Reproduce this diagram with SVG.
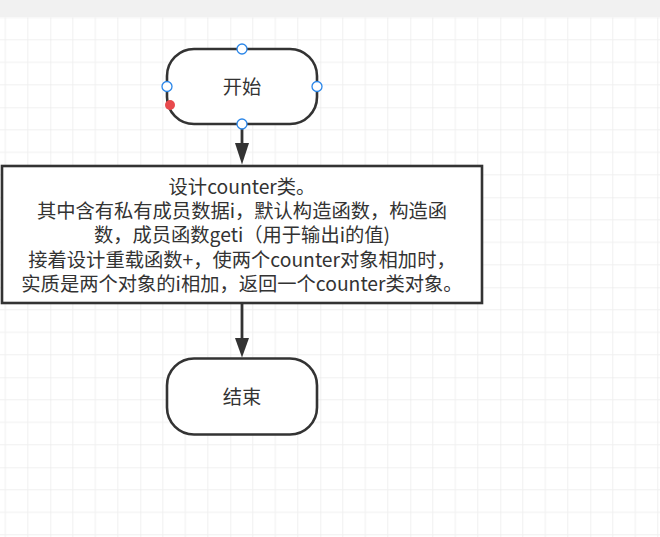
<svg xmlns="http://www.w3.org/2000/svg" width="660" height="537" viewBox="0 0 660 537">
  <defs>
    <pattern id="grid" patternUnits="userSpaceOnUse" x="-39.7" y="17.3" width="90" height="90">
      <path d="M22.5 0V90M45 0V90M67.5 0V90M0 22.5H90M0 45H90M0 67.5H90" stroke="#f0f0f0" stroke-width="1" fill="none"/>
      <path d="M0 0V90M0 0H90" stroke="#e4e4e4" stroke-width="1" fill="none"/>
    </pattern>
    <style>
      .shape { fill: #ffffff; stroke: #333333; stroke-width: 2.6; }
      .label { font-family: "Microsoft YaHei", "Noto Sans CJK SC", "Noto Sans", sans-serif; font-size: 19.3px; fill: #333333; text-anchor: middle; }
      .conn { stroke: #333333; stroke-width: 2.8; fill: none; }
      .head { fill: #333333; }
      .handle { fill: #ffffff; stroke: #2b86e8; stroke-width: 1.3; }
    </style>
  </defs>

  <rect x="0" y="0" width="660" height="537" fill="#ffffff"/>
  <rect x="0" y="17.3" width="660" height="520" fill="url(#grid)"/>
  <rect x="0" y="0" width="660" height="17" fill="#f1f1f1"/>

  <g id="connectors">
    <line class="conn" x1="242" y1="124" x2="242" y2="145"/>
    <path class="head" d="M235 143 L242 164.5 L249 143 Z"/>
    <line class="conn" x1="242" y1="303" x2="242" y2="340"/>
    <path class="head" d="M235 338 L242 357.5 L249 338 Z"/>
  </g>

  <g id="start">
    <rect class="shape" x="167" y="49" width="150" height="75" rx="27" ry="27"/>
    <text class="label" x="242" y="93.5">开始</text>
    <circle class="handle" cx="242" cy="49" r="5"/>
    <circle class="handle" cx="167" cy="86.5" r="5"/>
    <circle class="handle" cx="317" cy="86.5" r="5"/>
    <circle class="handle" cx="242" cy="124" r="5"/>
    <circle cx="170" cy="105" r="5" fill="#e84a4d"/>
  </g>

  <g id="process">
    <rect class="shape" x="2" y="166" width="480" height="137"/>
    <text class="label" x="242" y="193.5"><tspan x="242">设计counter类。</tspan><tspan x="242" dy="24.4">其中含有私有成员数据i，默认构造函数，构造函</tspan><tspan x="242" dy="24.4">数，成员函数geti（用于输出i的值)</tspan><tspan x="242" dy="24.2">接着设计重载函数+，使两个counter对象相加时，</tspan><tspan x="242" dy="24.4">实质是两个对象的i相加，返回一个counter类对象。</tspan></text>
  </g>

  <g id="end">
    <rect class="shape" x="167" y="358.5" width="150" height="76" rx="27" ry="27"/>
    <text class="label" x="242" y="404">结束</text>
  </g>
</svg>
